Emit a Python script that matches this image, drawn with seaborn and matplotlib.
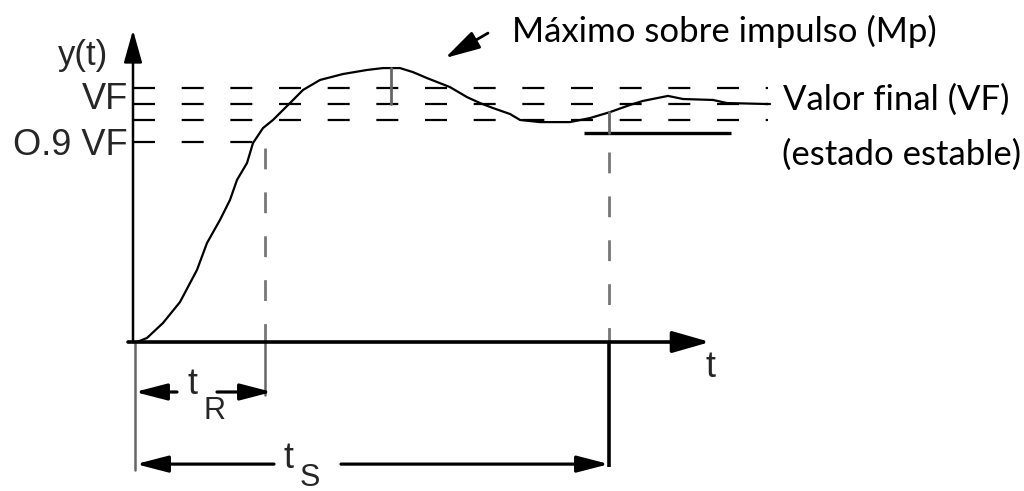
import numpy as np
import pandas as pd
import matplotlib
matplotlib.use("Agg")
import matplotlib.pyplot as plt
import seaborn as sns

# Step response of an underdamped system (schematic), VF normalised to 1
t_resp = [0.04, 0.14, 0.30, 0.47, 0.64, 0.74, 0.87, 0.97, 1.04, 1.14, 1.20, 1.30,
          1.40, 1.57, 1.70, 1.87, 2.10, 2.34, 2.50, 2.67, 2.80, 2.94, 3.17, 3.34,
          3.47, 3.60, 3.77, 3.87, 4.07, 4.37, 4.57, 4.77, 4.97, 5.10, 5.35, 5.50,
          5.80, 5.94, 6.34]
y_resp = [0.000, 0.017, 0.080, 0.168, 0.303, 0.416, 0.513, 0.597, 0.681, 0.752,
          0.836, 0.899, 0.933, 1.004, 1.059, 1.101, 1.126, 1.143, 1.151, 1.151,
          1.134, 1.109, 1.071, 1.029, 1.004, 0.983, 0.958, 0.933, 0.924, 0.924,
          0.941, 0.966, 0.996, 1.013, 1.034, 1.021, 1.017, 1.004, 1.000]

# Reference levels
vf = 1.0
band_levels = [1.067, 1.000, 0.933]      # tolerance band around VF
level_09 = 0.840                         # 0.9 VF marker
band_end = 6.35

# Characteristic times and peak
t_rise = 1.32
t_settle = 4.76
t_peak = 2.58
y_peak = 1.151
settle_bar = [4.51, 5.98, 0.878]         # x0, x1, level of settling marker
settle_tick_top = 0.966

# Axis extents
t_axis_end = 5.77
y_axis_end = 1.311

sns.set_theme(style="white")
plt.rcParams["font.family"] = ["Liberation Sans", "DejaVu Sans"]

fig = plt.figure(figsize=(10.24, 4.91), dpi=100)
ax = fig.add_axes([0, 0, 1, 1])
ax.set_xlim(-1.33, 8.91)
ax.set_ylim(-0.626, 1.437)
ax.axis("off")

dash = (0, (9.9, 12.0))
vdash = (0, (7.5, 8.3))

# Tolerance band and 0.9 VF dashed lines
for lv in band_levels:
    ax.plot([0, band_end], [lv, lv], color="black", lw=1.6, linestyle=dash)
ax.plot([0, 1.30], [level_09, level_09], color="black", lw=1.6, linestyle=dash)

# Response curve
df = pd.DataFrame({"t": t_resp, "y": y_resp})
sns.lineplot(data=df, x="t", y="y", ax=ax, color="black", lw=1.6, sort=False,
             estimator=None)
ax.plot([t_resp[-1], band_end + 0.02], [y_resp[-1], vf], color="black", lw=1.6)

# Peak marker
ax.plot([t_peak, t_peak], [y_peak, vf], color="#666666", lw=2.0)

# Settling marker
ax.plot([settle_bar[0], settle_bar[1]], [settle_bar[2], settle_bar[2]],
        color="black", lw=2.4, solid_capstyle="butt")
ax.plot([t_settle, t_settle], [settle_tick_top, settle_bar[2]], color="#666666", lw=2.0)

# Vertical guides for t_R and t_S
ax.plot([t_rise, t_rise], [0.815, 0], color="#777777", lw=2.0, linestyle=vdash)
ax.plot([t_settle, t_settle], [0.800, 0], color="#777777", lw=2.0, linestyle=vdash)
ax.plot([t_rise, t_rise], [0, -0.223], color="#666666", lw=1.8)
ax.plot([0.02, 0.02], [0, -0.538], color="#666666", lw=1.8)
ax.plot([t_settle, t_settle], [0, -0.525], color="black", lw=2.6, solid_capstyle="butt")

# Axes with arrow heads
ax.annotate("", xy=(t_axis_end, 0), xytext=(-0.05, 0),
            arrowprops=dict(lw=2.6, arrowstyle="-|>,head_length=1.15,head_width=0.33",
                            mutation_scale=20, color="black", shrinkA=0, shrinkB=0))
ax.annotate("", xy=(0, y_axis_end), xytext=(0, 0),
            arrowprops=dict(lw=1.8, arrowstyle="-|>,head_length=1.0,head_width=0.28",
                            mutation_scale=20, color="black", shrinkA=0, shrinkB=0))

# Dimension arrows
dim_arrow = dict(arrowstyle="-|>,head_length=1.08,head_width=0.28",
                 mutation_scale=18, color="black", lw=2.3, shrinkA=0, shrinkB=0)
ax.annotate("", xy=(0.02, -0.21), xytext=(0.44, -0.21), arrowprops=dim_arrow)
ax.annotate("", xy=(1.39, -0.21), xytext=(0.84, -0.21), arrowprops=dim_arrow)
ax.annotate("", xy=(0.03, -0.513), xytext=(1.41, -0.513), arrowprops=dim_arrow)
ax.annotate("", xy=(t_settle, -0.513), xytext=(2.08, -0.513), arrowprops=dim_arrow)

# Overshoot pointer
ax.annotate("", xy=(3.12, 1.193), xytext=(3.55, 1.298),
            arrowprops=dict(arrowstyle="-|>,head_length=1.2,head_width=0.32",
                            mutation_scale=18, color="black", lw=2.0,
                            shrinkA=0, shrinkB=0))

# Axis labels
ax.text(-0.50, 1.202, "y(t)", ha="center", va="center", fontsize=25)
ax.text(-0.05, 1.019, "VF", ha="right", va="center", fontsize=26)
ax.text(-0.05, 0.824, "O.9 VF", ha="right", va="center", fontsize=26)
ax.text(5.78, -0.105, "t", ha="center", va="center", fontsize=26)
ax.text(0.59, -0.180, "t", ha="center", va="center", fontsize=26)
ax.text(0.82, -0.290, "R", ha="center", va="center", fontsize=22)
ax.text(1.55, -0.488, "t", ha="center", va="center", fontsize=26)
ax.text(1.77, -0.571, "S", ha="center", va="center", fontsize=22)

# Annotations
ann = dict(fontsize=25, color="black", family=["Lato", "DejaVu Sans"])
ax.text(3.79, 1.303, "Máximo sobre impulso (Mp)", ha="left", va="center", **ann)
ax.text(6.50, 1.017, "Valor final (VF)", ha="left", va="center", **ann)
ax.text(6.49, 0.786, "(estado estable)", ha="left", va="center", **ann)

fig.savefig("out.png", dpi=100)
